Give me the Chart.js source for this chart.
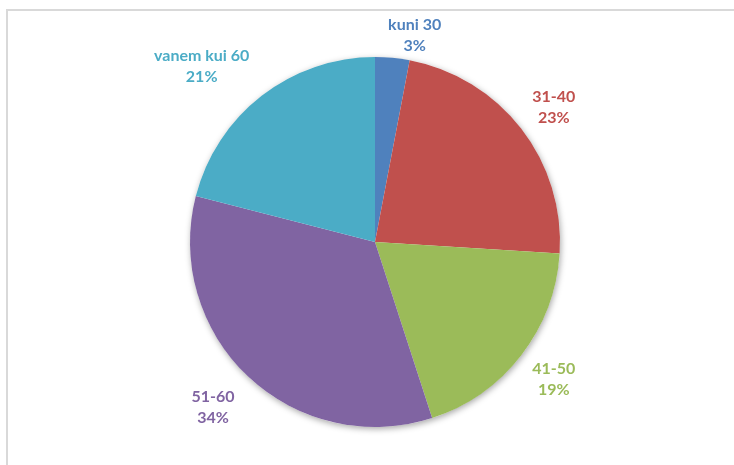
<!DOCTYPE html>
<html>
<head>
<meta charset="utf-8">
<script src="https://cdn.jsdelivr.net/npm/chart.js@4.4.0/dist/chart.umd.min.js"></script>
<style>
  html, body { margin: 0; padding: 0; background: #fff; }
  .frame {
    position: absolute; left: 6px; top: 9px; width: 740px; height: 470px;
    border: 2px solid #d9d9d9; box-sizing: border-box;
  }
  .wrap { position: absolute; left: 0; top: 0; width: 734px; height: 465px; }
</style>
</head>
<body>
<div class="frame"></div>
<div class="wrap"><canvas id="chart"></canvas></div>
<script>
const groups = ['kuni 30', '31-40', '41-50', '51-60', 'vanem kui 60'];
const shares = [3, 23, 19, 34, 21];
const colors = ['#4F81BD', '#C0504D', '#9BBB59', '#8064A2', '#4BACC6'];

const font = 'bold 16px Lato, "Open Sans", sans-serif';
// small hand nudges for label placement, like Excel's best-fit
const labelNudge = [[19, 12], [0, 5], [0, -1], [-7, 1], [-25, 16]];

// soft shadow behind the whole pie
const pieShadow = {
  id: 'pieShadow',
  beforeDatasetsDraw(chart) {
    const arc = chart.getDatasetMeta(0).data[0];
    if (!arc) return;
    const ctx = chart.ctx;
    ctx.save();
    ctx.shadowColor = 'rgba(0,0,0,0.35)';
    ctx.shadowBlur = 6;
    ctx.shadowOffsetX = 1;
    ctx.shadowOffsetY = 2;
    ctx.fillStyle = '#fff';
    ctx.beginPath();
    ctx.arc(arc.x, arc.y, arc.outerRadius, 0, Math.PI * 2);
    ctx.fill();
    ctx.restore();
  }
};

// category + percent labels outside each slice
const outsideLabels = {
  id: 'outsideLabels',
  afterDatasetsDraw(chart) {
    const ctx = chart.ctx;
    const total = shares.reduce((a, b) => a + b, 0);
    ctx.save();
    ctx.font = font;
    ctx.textAlign = 'center';
    ctx.textBaseline = 'middle';
    chart.getDatasetMeta(0).data.forEach((arc, i) => {
      const mid = (arc.startAngle + arc.endAngle) / 2;
      const cx = Math.cos(mid), cy = Math.sin(mid);
      const pct = Math.round(shares[i] / total * 100) + '%';
      const w = Math.max(ctx.measureText(groups[i]).width, ctx.measureText(pct).width);
      const h = 40;
      const d = arc.outerRadius + 12 + Math.abs(cx) * w / 2 + Math.abs(cy) * h / 2;
      const x = arc.x + cx * d + labelNudge[i][0];
      const y = arc.y + cy * d + labelNudge[i][1];
      ctx.fillStyle = colors[i];
      ctx.fillText(groups[i], x, y - 11);
      ctx.fillText(pct, x, y + 10);
    });
    ctx.restore();
  }
};

new Chart(document.getElementById('chart'), {
  type: 'pie',
  data: {
    labels: groups,
    datasets: [{
      data: shares,
      backgroundColor: colors,
      borderWidth: 0
    }]
  },
  options: {
    responsive: true,
    maintainAspectRatio: false,
    animation: false,
    layout: { padding: { top: 57, bottom: 38, left: 190, right: 174 } },
    plugins: {
      legend: { display: false },
      tooltip: { enabled: false }
    }
  },
  plugins: [pieShadow, outsideLabels]
});
</script>
</body>
</html>
